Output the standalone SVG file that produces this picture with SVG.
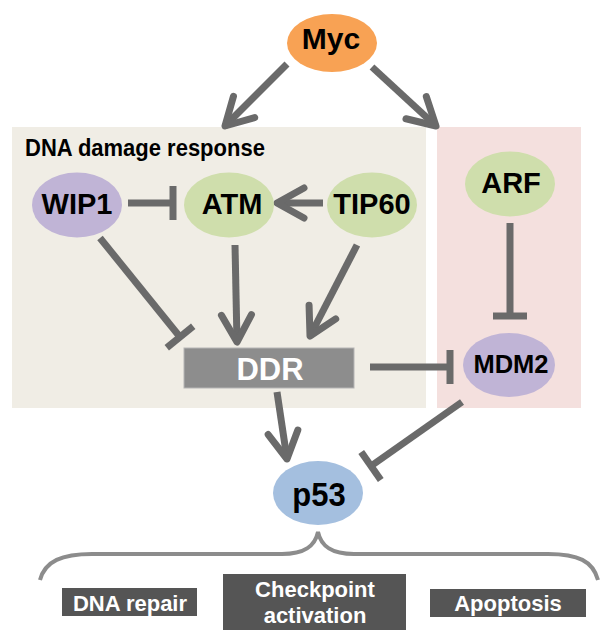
<svg xmlns="http://www.w3.org/2000/svg" width="600" height="637" viewBox="0 0 600 637">
<style>
.lbl{font-family:"Liberation Sans",Arial,sans-serif;font-weight:bold;text-anchor:middle;fill:#000}
.wl{font-family:"Liberation Sans",Arial,sans-serif;font-weight:bold;text-anchor:middle;fill:#fff}
.edge{stroke:#6a6a6a;stroke-width:7;fill:none}
.green{fill:#cfdeac}.purple{fill:#c0b4d6}
.out{fill:#555555}
</style>
<defs>
<marker id="arr" markerUnits="userSpaceOnUse" markerWidth="80" markerHeight="80" refX="0" refY="0" orient="auto" overflow="visible">
<path d="M -27,-15 L 0,0 L -27,15" fill="none" stroke="#6a6a6a" stroke-width="7" stroke-linecap="round" stroke-linejoin="round"/>
</marker>
<marker id="inh" markerUnits="userSpaceOnUse" markerWidth="80" markerHeight="80" refX="0" refY="0" orient="auto" overflow="visible">
<path d="M 0,-17 L 0,17" fill="none" stroke="#6a6a6a" stroke-width="7"/>
</marker>
</defs>
<rect width="600" height="637" fill="#ffffff"/>
<g id="region-ddr">
<rect x="12" y="127" width="414" height="281" fill="#f0ede5"/>
<text transform="translate(25,156) scale(1,1.1)" font-family="Liberation Sans, Arial, sans-serif" font-weight="bold" font-size="22" fill="#000">DNA damage response</text>
</g>
<g id="region-arf">
<rect x="437" y="127" width="144" height="281" fill="#f4e0de"/>
</g>
<g id="connectors">
<line class="edge" x1="287" y1="64" x2="225" y2="126" marker-end="url(#arr)"/>
<line class="edge" x1="372" y1="67" x2="436" y2="126" marker-end="url(#arr)"/>
<line class="edge" x1="323" y1="203" x2="277" y2="203" marker-end="url(#arr)"/>
<line class="edge" x1="128" y1="203" x2="173" y2="203" marker-end="url(#inh)"/>
<line class="edge" x1="100" y1="238" x2="180" y2="337" marker-end="url(#inh)"/>
<line class="edge" x1="235" y1="245" x2="237" y2="342" marker-end="url(#arr)"/>
<line class="edge" x1="357" y1="245" x2="310" y2="336" marker-end="url(#arr)"/>
<line class="edge" x1="510" y1="223" x2="510" y2="316" marker-end="url(#inh)"/>
<line class="edge" x1="370" y1="367" x2="450" y2="367" marker-end="url(#inh)"/>
<line class="edge" x1="277" y1="392" x2="287" y2="459" marker-end="url(#arr)"/>
<line class="edge" x1="462" y1="402" x2="371" y2="466" marker-end="url(#inh)"/>
<path d="M 40,580 C 45,561 62,554 92,554 L 282,554 C 305,554 315,546 318,532 C 321,546 331,554 354,554 L 548,554 C 578,554 593,561 598,580" fill="none" stroke="#8c8c8c" stroke-width="4"/>
</g>
<g id="node-myc">
<ellipse cx="332" cy="43" rx="45" ry="29" fill="#f8a254"/>
<text class="lbl" x="331" y="49" font-size="30">Myc</text>
</g>
<g id="node-wip1">
<ellipse class="purple" cx="77" cy="205" rx="45" ry="32.5"/>
<text class="lbl" x="77" y="214" font-size="29">WIP1</text>
</g>
<g id="node-atm">
<ellipse class="green" cx="229" cy="205" rx="45" ry="32.5"/>
<text class="lbl" x="232" y="214" font-size="29">ATM</text>
</g>
<g id="node-tip60">
<ellipse class="green" cx="372" cy="205" rx="45" ry="32.5"/>
<text class="lbl" x="372" y="214" font-size="29">TIP60</text>
</g>
<g id="node-arf">
<ellipse class="green" cx="510" cy="184" rx="45" ry="32.5"/>
<text class="lbl" x="511" y="193" font-size="29">ARF</text>
</g>
<g id="node-mdm2">
<ellipse class="purple" cx="509" cy="365" rx="46" ry="32"/>
<text class="lbl" x="511" y="373" font-size="25.5">MDM2</text>
</g>
<g id="node-ddr">
<rect x="184" y="348" width="170" height="40" fill="#8d8d8d" stroke="#b5b5b5" stroke-width="1"/>
<text class="wl" x="270" y="380" font-size="31">DDR</text>
</g>
<g id="node-p53">
<ellipse cx="318" cy="493" rx="45" ry="32" fill="#a4bfdf"/>
<text class="lbl" transform="translate(319,506) scale(1,1.1)" x="0" y="0" font-size="31">p53</text>
</g>
<g id="out-dnarepair">
<rect class="out" x="62" y="588" width="135" height="28"/>
<text class="wl" x="130" y="611" font-size="22">DNA repair</text>
</g>
<g id="out-checkpoint">
<rect class="out" x="223" y="574" width="183" height="56"/>
<text class="wl" x="315" y="597" font-size="22">Checkpoint</text>
<text class="wl" x="315" y="623" font-size="22">activation</text>
</g>
<g id="out-apoptosis">
<rect class="out" x="430" y="589" width="156" height="28"/>
<text class="wl" x="508" y="611" font-size="22">Apoptosis</text>
</g>
</svg>
